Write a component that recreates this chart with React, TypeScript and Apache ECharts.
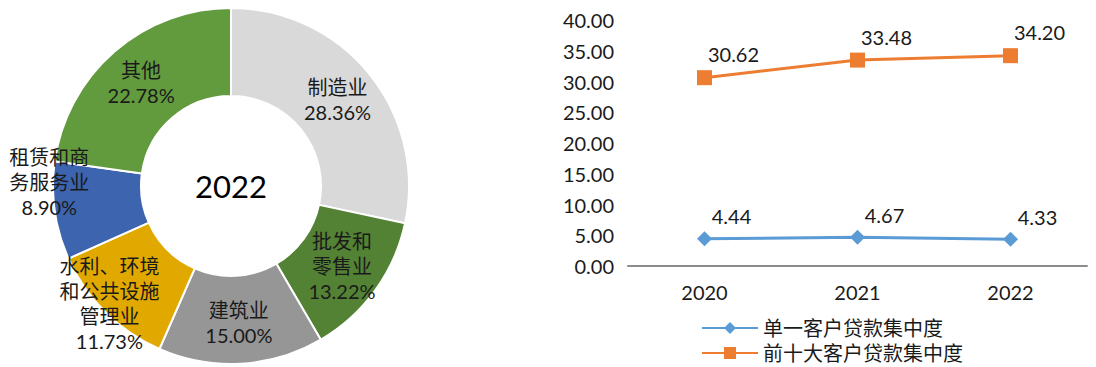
import React, { useEffect, useRef } from "react";
import * as echarts from "echarts";

const pieNames = ["制造业", "批发和\n零售业", "建筑业", "水利、环境\n和公共设施\n管理业", "租赁和商\n务服务业", "其他"];
const pieValues = [28.36, 13.22, 15.0, 11.73, 8.9, 22.78];
const pieColors = ["#D9D9D9", "#548235", "#969696", "#E1A900", "#3D64AE", "#629A3E"];
const pieLabelShift = [[0, 0], [0, 0], [0, 0], [-25, 20], [-46, -23], [0, 0]];
const pieCenterText = "2022";

const years = ["2020", "2021", "2022"];
const singleName = "单一客户贷款集中度";
const singleValues = [4.44, 4.67, 4.33];
const topTenName = "前十大客户贷款集中度";
const topTenValues = [30.62, 33.48, 34.2];

const FONT = "Lato, 'Noto Sans CJK SC', sans-serif";

export default function App() {
  const ref = useRef<HTMLDivElement>(null);
  useEffect(() => {
    if (!ref.current) return;
    const chart = echarts.init(ref.current, undefined, { renderer: "svg" });
    const legendText = { fontSize: 20, color: "#1a1a1a", fontFamily: FONT, lineHeight: 20 };
    chart.setOption({
      animation: false,
      textStyle: { fontFamily: FONT },
      graphic: [
        {
          type: "text",
          x: 231,
          y: 186,
          style: {
            text: pieCenterText,
            fontSize: 31,
            fontFamily: FONT,
            fill: "#000",
            textAlign: "center",
            textVerticalAlign: "middle",
          },
        },
      ],
      grid: { left: 628, right: 9, top: 20, bottom: 101 },
      xAxis: {
        type: "category",
        data: years,
        boundaryGap: true,
        axisLine: { lineStyle: { color: "#8C8C8C", width: 2 } },
        axisTick: { show: false },
        axisLabel: { color: "#1a1a1a", fontSize: 20, margin: 16, fontFamily: FONT },
      },
      yAxis: {
        type: "value",
        min: 0,
        max: 40,
        interval: 5,
        splitLine: { show: false },
        axisLine: { show: false },
        axisTick: { show: false },
        axisLabel: {
          color: "#1a1a1a",
          fontSize: 20,
          margin: 14,
          fontFamily: FONT,
          formatter: (v: number) => v.toFixed(2),
        },
      },
      legend: [
        {
          left: 701,
          top: 318,
          padding: 0,
          itemWidth: 56,
          itemHeight: 15,
          textStyle: legendText,
          data: [singleName],
        },
        {
          left: 701,
          top: 343,
          padding: 0,
          itemWidth: 56,
          itemHeight: 15,
          textStyle: legendText,
          data: [topTenName],
        },
      ],
      series: [
        {
          type: "pie",
          center: [231, 186],
          radius: [90, 178],
          startAngle: 90,
          clockwise: true,
          data: pieNames.map((n, i) => ({ name: n, value: pieValues[i], itemStyle: { color: pieColors[i] } })),
          itemStyle: { borderColor: "#fff", borderWidth: 2 },
          label: {
            show: true,
            position: "inside",
            color: "#1a1a1a",
            fontSize: 20,
            lineHeight: 25,
            fontFamily: FONT,
            formatter: (p: any) => `${p.name}\n${p.value.toFixed(2)}%`,
          },
          labelLayout: (p: any) => ({ dx: pieLabelShift[p.dataIndex][0], dy: pieLabelShift[p.dataIndex][1] }),
          emphasis: { disabled: true },
        },
        {
          type: "line",
          name: singleName,
          data: singleValues,
          symbol: "diamond",
          symbolSize: 15,
          color: "#5B9BD5",
          lineStyle: { width: 3, color: "#5B9BD5" },
          label: {
            show: true,
            position: "top",
            offset: [27, 0],
            fontSize: 20,
            color: "#1a1a1a",
            fontFamily: FONT,
            formatter: (p: any) => p.value.toFixed(2),
          },
        },
        {
          type: "line",
          name: topTenName,
          data: topTenValues,
          symbol: "rect",
          symbolSize: 15,
          color: "#ED7D31",
          lineStyle: { width: 3, color: "#ED7D31" },
          label: {
            show: true,
            position: "top",
            offset: [29, -1],
            fontSize: 20,
            color: "#1a1a1a",
            fontFamily: FONT,
            formatter: (p: any) => p.value.toFixed(2),
          },
        },
      ],
    });
    return () => chart.dispose();
  }, []);
  return <div ref={ref} style={{ position: "absolute", left: 0, top: 0, width: 1096, height: 367 }} />;
}
